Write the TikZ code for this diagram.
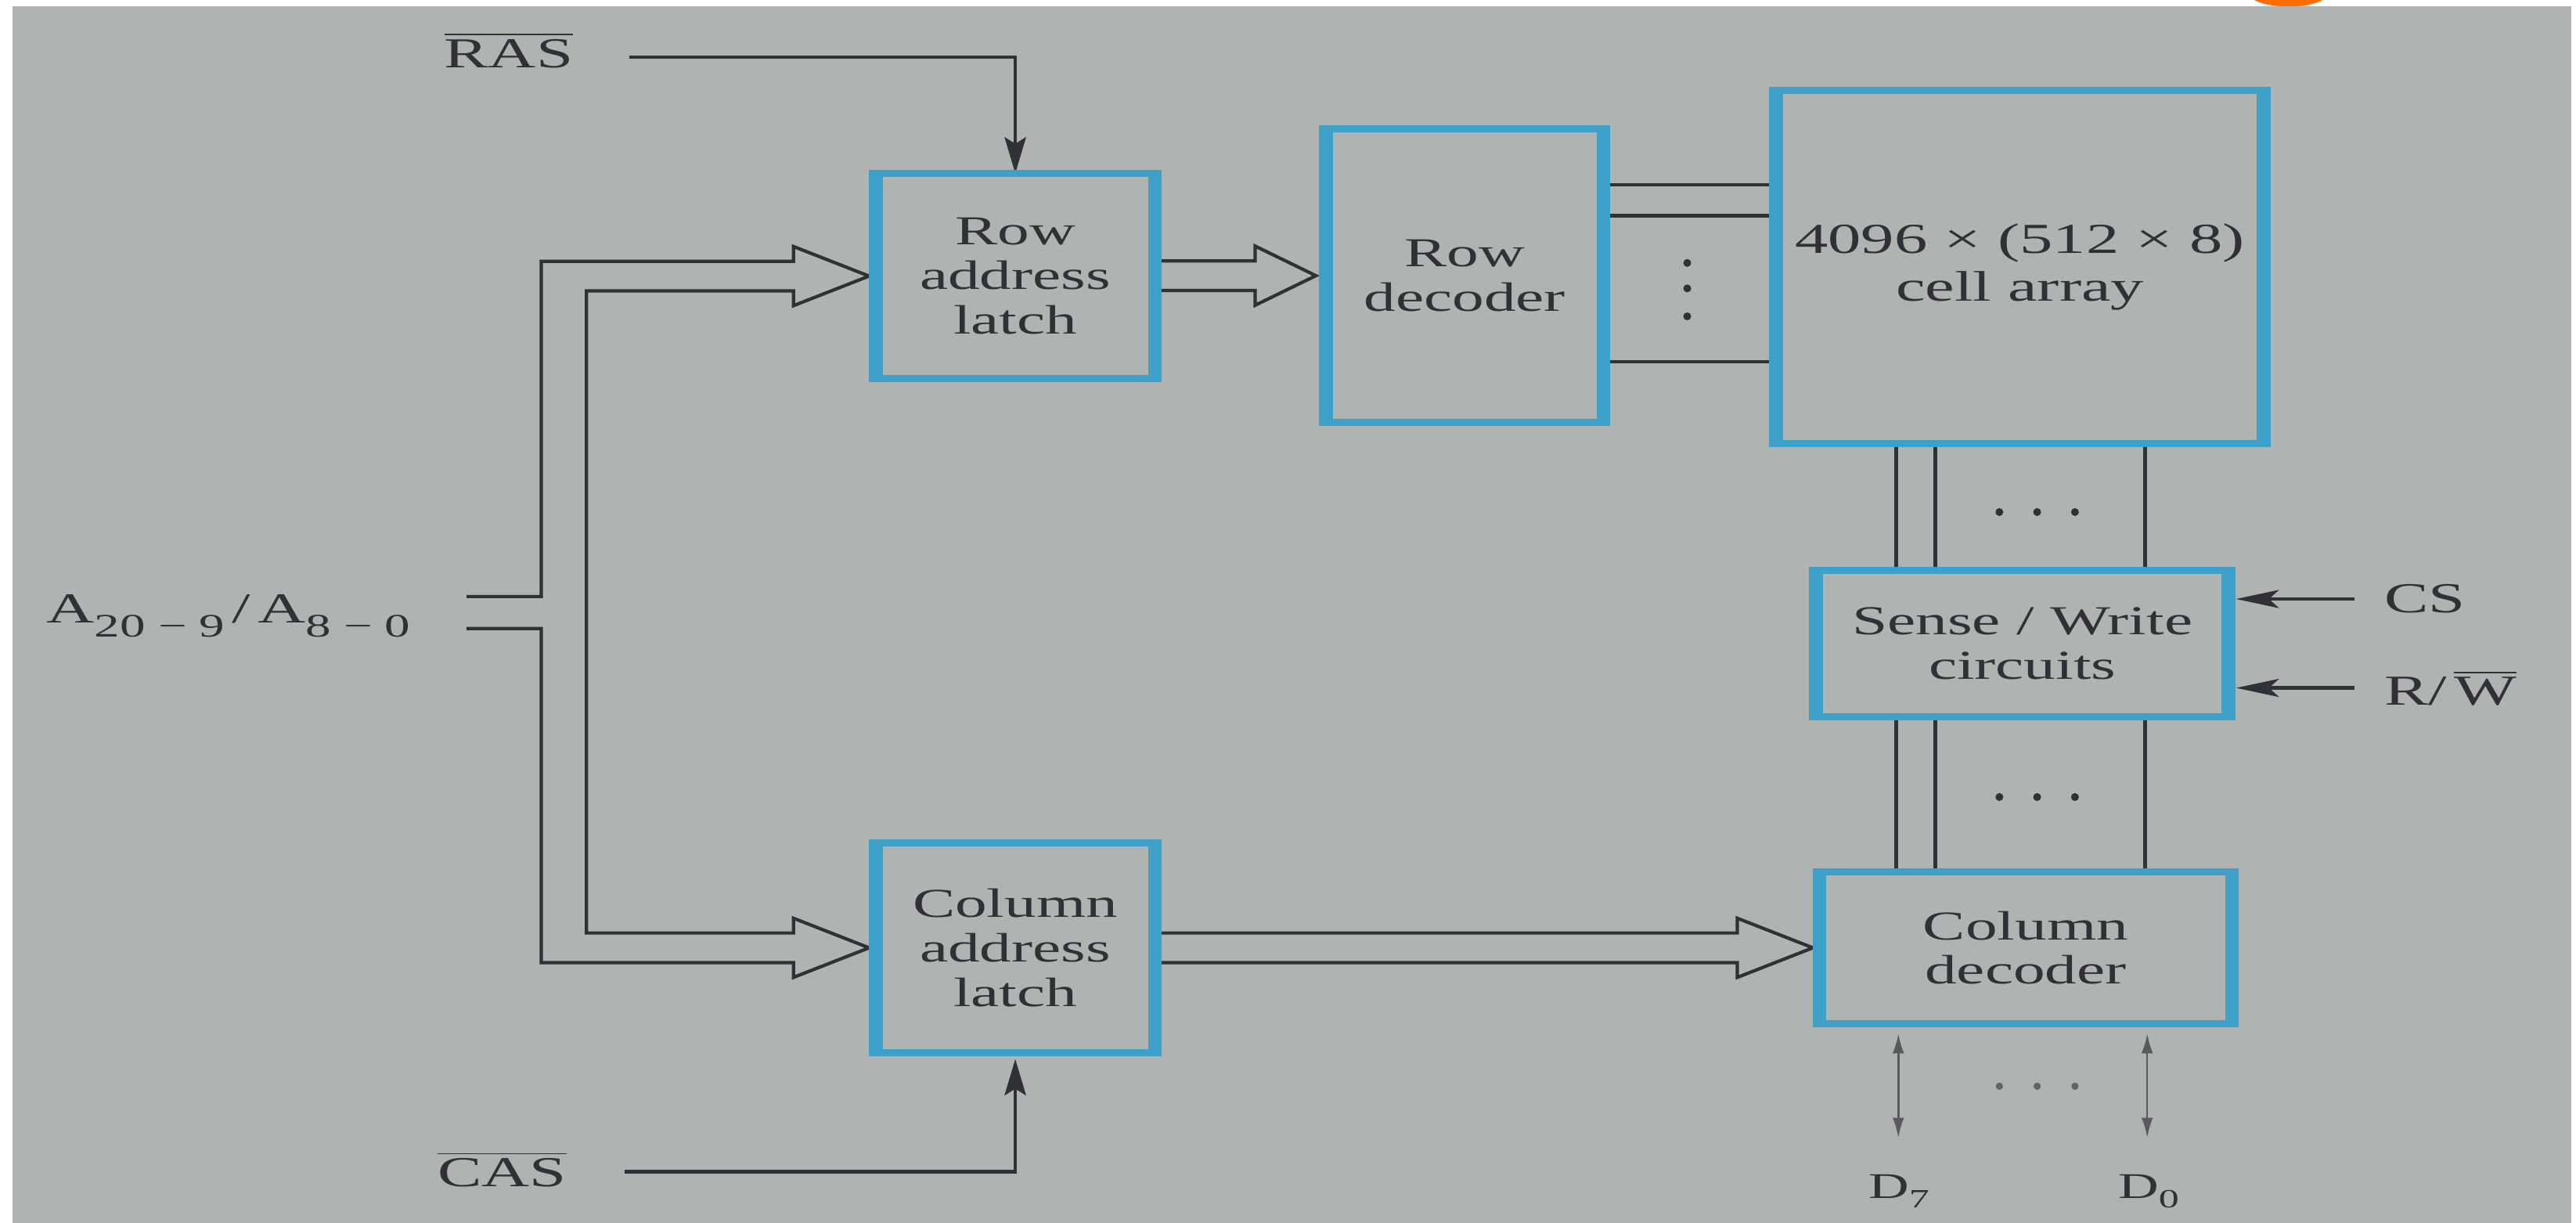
\documentclass[tikz,border=0pt]{standalone}
\usepackage{fontspec}
\setmainfont{Liberation Serif}[FakeStretch=1.55]
\usetikzlibrary{arrows.meta,calc}
\definecolor{bgc}{RGB}{175,179,178}
\definecolor{boxc}{RGB}{62,160,200}
\definecolor{ink}{RGB}{48,48,54}
\pgfdeclarelayer{back}
\pgfdeclarelayer{wires}
\pgfsetlayers{back,wires,main}
\newcommand\thicksides[1]{\draw[boxc,line width=4.2pt] ([yshift=1.05pt]#1.north west) -- ([yshift=-1.05pt]#1.south west) ([yshift=1.05pt]#1.north east) -- ([yshift=-1.05pt]#1.south east);}
\begin{document}
\begin{tikzpicture}[x=0.5pt,y=-0.5pt,
  box/.style={draw=boxc, line width=2.1pt, fill=bgc, inner sep=0pt, outer sep=0pt, align=center, text=ink, font=\fontsize{12.5}{13.5}\selectfont},
  lbl/.style={inner sep=0pt, text=ink, font=\fontsize{13}{15}\selectfont, anchor=base west},
  wire/.style={draw=ink, line width=1pt},
  bus/.style={draw=ink, line width=1pt, line join=miter},
  varr/.style={wire, -{Stealth[length=11pt,width=6.5pt,inset=2pt]}},
  harr/.style={wire, -{Stealth[length=13pt,width=5.5pt,inset=3pt]}},
  darr/.style={draw=ink!80, line width=0.6pt, {Latex[length=6pt,width=3.5pt]}-{Latex[length=6pt,width=3.5pt]}}
]
\useasboundingbox (0,0) rectangle (1568,744);
\begin{pgfonlayer}{back}
  \fill[white] (0,0) rectangle (1568,744);
  \fill[bgc] (7.6,3.6) rectangle (1565,744);
  \begin{scope}
    \clip (1360,0) rectangle (1420,3.6);
    \fill[orange!85!red] (1393,-4) ellipse (24 and 8);
  \end{scope}
\end{pgfonlayer}

% boxes
\node[box, minimum width=85pt, minimum height=62.5pt] (rl) at (618,168) {Row\\address\\latch};
\node[box, minimum width=84.5pt, minimum height=89.25pt] (rd) at (891.5,167.75) {Row\\decoder};
\node[box, minimum width=148.5pt, minimum height=107.5pt, font=\fontsize{13}{14.5}\selectfont] (ca) at (1229.5,162.5) {4096 × (512 × 8)\\cell array};
\node[box, minimum width=125.5pt, minimum height=44.5pt] (sw) at (1231,391.5) {Sense / Write\\circuits};
\node[box, minimum width=125.5pt, minimum height=46.25pt] (cd) at (1233,576.75) {Column\\decoder};
\node[box, minimum width=85pt, minimum height=63.75pt] (cl) at (618,576.75) {Column\\address\\latch};
\thicksides{rl}\thicksides{rd}\thicksides{ca}\thicksides{sw}\thicksides{cd}\thicksides{cl}

% labels
\node[lbl] (ras) at (270,41) {$\overline{\mbox{RAS}}$};
\node[lbl] (cas) at (266,722) {$\overline{\mbox{CAS}}$};
\node[lbl] (addr) at (28,378.8) {A\raisebox{-4.5pt}{\fontsize{10}{10}\selectfont 20 − 9}\,/\,A\raisebox{-4.5pt}{\fontsize{10}{10}\selectfont 8 − 0}};
\node[lbl] (cs) at (1451,372.6) {CS};
\node[lbl] (rw) at (1451,429) {R/\,$\overline{\mbox{W}}$};
\node[lbl, font=\fontsize{11}{12}\selectfont] (d7) at (1137,729) {D\raisebox{-3pt}{\fontsize{8}{8}\selectfont 7}};
\node[lbl, font=\fontsize{11}{12}\selectfont] (d0) at (1289,729) {D\raisebox{-3pt}{\fontsize{8}{8}\selectfont 0}};

\begin{pgfonlayer}{wires}
  % control arrows
  \coordinate (rasS) at (383,34.8);
  \draw[varr] (rasS) -| (rl.north);
  \coordinate (casS) at (380,713);
  \draw[varr] (casS) -| ([yshift=-2pt]cl.south);
  \coordinate (csS) at (1433,364.5);
  \coordinate (rwS) at (1433,418.6);
  \draw[harr] (csS) -- ([xshift=2.3pt]sw.east |- csS);
  \draw[harr] (rwS) -- ([xshift=2.3pt]sw.east |- rwS);

  % address bus
  \coordinate (aU) at (284,363);
  \coordinate (aL) at (284,382.5);
  \coordinate (ox) at (329.5,0);
  \coordinate (ix) at (357,0);
  \coordinate (t1) at ([xshift=-2pt]rl.west);
  \coordinate (t1u) at ($(t1)+(-46,-9)$);
  \coordinate (t1uu) at ($(t1)+(-46,-18)$);
  \coordinate (t1l) at ($(t1)+(-46,9)$);
  \coordinate (t1ll) at ($(t1)+(-46,18)$);
  \coordinate (t2) at ([xshift=-2pt]cl.west);
  \coordinate (t2u) at ($(t2)+(-46,-9)$);
  \coordinate (t2uu) at ($(t2)+(-46,-18)$);
  \coordinate (t2l) at ($(t2)+(-46,9)$);
  \coordinate (t2ll) at ($(t2)+(-46,18)$);
  \draw[bus] (aU) -- (ox |- aU) -- (ox |- t1u) -- (t1u) -- (t1uu) -- (t1) -- (t1ll) -- (t1l)
     -- (ix |- t1l) -- (ix |- t2u) -- (t2u) -- (t2uu) -- (t2) -- (t2ll) -- (t2l)
     -- (ox |- t2l) -- (ox |- aL) -- (aL);

  % row latch -> row decoder
  \coordinate (t3) at ([xshift=-3pt]rd.west);
  \coordinate (t3u) at ($(t3)+(-37,-9)$);
  \coordinate (t3uu) at ($(t3)+(-37,-18)$);
  \coordinate (t3l) at ($(t3)+(-37,9)$);
  \coordinate (t3ll) at ($(t3)+(-37,18)$);
  \draw[bus] (rl.east |- t3u) -- (t3u) -- (t3uu) -- (t3) -- (t3ll) -- (t3l) -- (rl.east |- t3l);

  % column latch -> column decoder
  \coordinate (t4) at ([xshift=-2pt]cd.west);
  \coordinate (t4u) at ($(t4)+(-46,-9)$);
  \coordinate (t4uu) at ($(t4)+(-46,-18)$);
  \coordinate (t4l) at ($(t4)+(-46,9)$);
  \coordinate (t4ll) at ($(t4)+(-46,18)$);
  \draw[bus] (cl.east |- t4u) -- (t4u) -- (t4uu) -- (t4) -- (t4ll) -- (t4l) -- (cl.east |- t4l);

  % row decoder -> cell array
  \coordinate (ry1) at (0,112.3);
  \coordinate (ry2) at (0,131.3);
  \coordinate (ry3) at (0,220);
  \foreach \r in {ry1,ry2,ry3} \draw[wire] (rd.east |- \r) -- (ca.west |- \r);

  % vertical bit lines
  \coordinate (vx1) at (1154,0);
  \coordinate (vx2) at (1178,0);
  \coordinate (vx3) at (1305.5,0);
  \foreach \v in {vx1,vx2,vx3} {
    \draw[wire, line width=1.2pt] (ca.south -| \v) -- (sw.north -| \v);
    \draw[wire, line width=1.2pt] (sw.south -| \v) -- (cd.north -| \v);
  }

  % data lines
  \coordinate (xd7) at (1155.5,0);
  \coordinate (xd0) at (1307,0);
  \draw[darr] ([yshift=-3pt]cd.south -| xd7) -- ([yshift=11pt]d7.north -| xd7);
  \draw[darr] ([yshift=-3pt]cd.south -| xd0) -- ([yshift=11pt]d0.north -| xd0);
\end{pgfonlayer}

% dots
\foreach \y in {160,175.5,192.5} \fill[ink] (1027,\y) circle (1.2pt);
\foreach \x in {1217,1240,1263} {
  \fill[ink] (\x,311.6) circle (1.2pt);
  \fill[ink] (\x,485) circle (1.2pt);
  \fill[ink!75] (\x,661) circle (1.1pt);
}
\end{tikzpicture}
\end{document}
